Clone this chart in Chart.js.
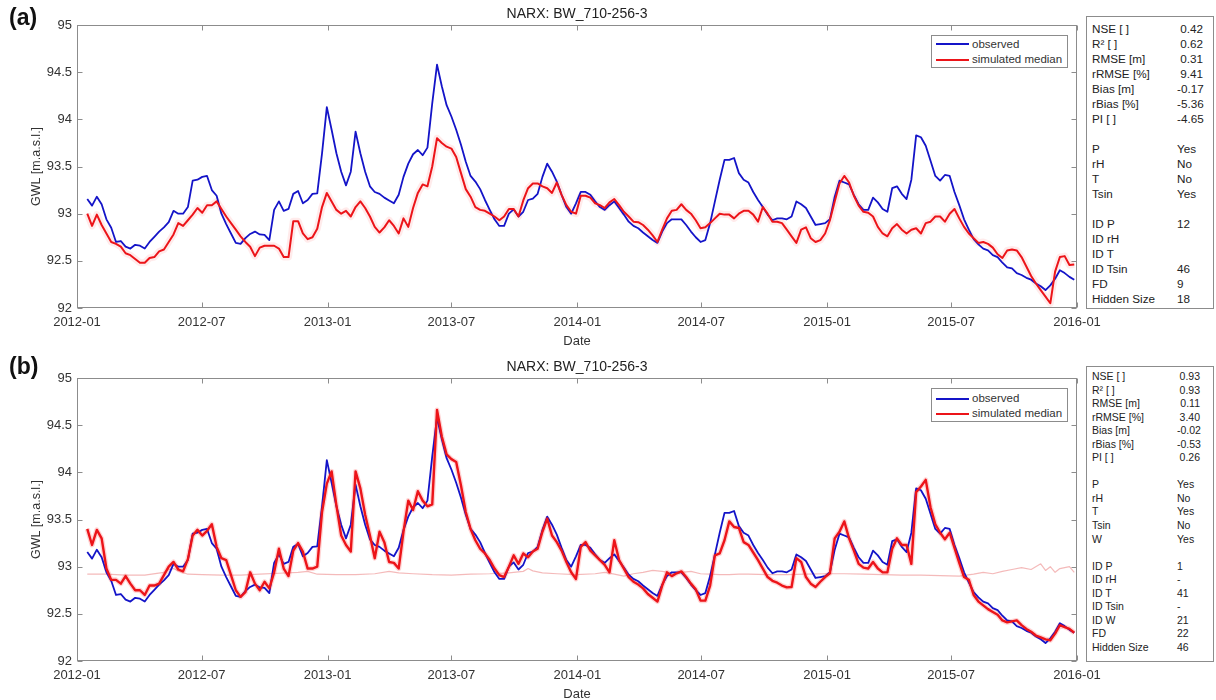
<!DOCTYPE html>
<html>
<head>
<meta charset="utf-8">
<title>NARX: BW_710-256-3</title>
<script src="https://cdn.jsdelivr.net/npm/chart.js@4.4.1/dist/chart.umd.min.js"></script>
<style>
  html, body { margin: 0; padding: 0; background: #fff; overflow: hidden; width: 1216px; height: 700px; }
  body { position: relative; font-family: "Liberation Sans", Arial, sans-serif; color: #222; }
  canvas { position: absolute; left: 0; }
  #chartA { top: 0; }
  #chartB { top: 353px; }
  .tag { position: absolute; left: 9px; font-weight: bold; font-size: 23px; line-height: 23px; color: #111; }
  .legend { position: absolute; left: 931px; width: 135px; border: 1px solid #8c8c8c; background: #fff; font-size: 11.5px; }
  .legend .entry { position: absolute; left: 0; width: 135px; height: 15px; line-height: 15px; }
  .legend .swatch { position: absolute; left: 4px; top: 6.5px; width: 33px; height: 2px; }
  .legend .text { position: absolute; left: 40px; top: 0; white-space: nowrap; color: #333; }
  .stats { position: absolute; left: 1086px; width: 128px; border: 1px solid #8c8c8c; background: #fff; box-sizing: border-box; color: #222; }
  .stats .row { position: relative; white-space: nowrap; }
  .stats .lab { position: absolute; left: 5px; top: 0; }
  .stats .val { position: absolute; left: 90px; top: 0; }
</style>
</head>
<body>
<canvas id="chartA" width="1216" height="353"></canvas>
<canvas id="chartB" width="1216" height="353"></canvas>
<div class="tag" style="top:6px">(a)</div>
<div class="tag" style="top:355px">(b)</div>
<div class="legend" id="legendA" style="top:35px;height:31px"></div>
<div class="legend" id="legendB" style="top:388px;height:32px"></div>
<div class="stats" id="statsA" style="top:16px;height:293px;padding-top:4px;font-size:11.7px"></div>
<div class="stats" id="statsB" style="top:366px;height:296px;padding-top:3px;font-size:10.5px"></div>
<script>
// ---- weekly groundwater levels, BW_710-256-3 (m a.s.l.) ----
const firstWeek = '2012-01-16';   // date of the first weekly value
const weekStep = 7;               // days between values

const observed = [
  93.155, 93.085, 93.18, 93.10, 92.94, 92.85, 92.70, 92.71, 92.65, 92.63,
  92.67, 92.66, 92.63, 92.70, 92.755, 92.81, 92.855, 92.91, 93.03, 93.00,
  93.00, 93.07, 93.35, 93.36, 93.39, 93.40, 93.25, 93.19, 93.00, 92.89,
  92.79, 92.69, 92.68, 92.74, 92.785, 92.81, 92.78, 92.775, 92.72, 93.04,
  93.13, 93.03, 93.05, 93.21, 93.24, 93.11, 93.145, 93.21, 93.215, 93.64,
  94.13, 93.89, 93.64, 93.445, 93.30, 93.445, 93.87, 93.64, 93.445, 93.29,
  93.23, 93.21, 93.17, 93.14, 93.11, 93.20, 93.39, 93.53, 93.63, 93.675,
  93.62, 93.70, 94.17, 94.58, 94.35, 94.15, 94.03, 93.89, 93.73, 93.55,
  93.40, 93.34, 93.26, 93.145, 93.04, 92.94, 92.87, 92.87, 93.00, 93.045,
  92.97, 93.02, 93.145, 93.16, 93.21, 93.39, 93.53, 93.445, 93.34, 93.20,
  93.07, 93.00, 93.11, 93.23, 93.23, 93.20, 93.13, 93.07, 93.04, 93.09,
  93.13, 93.06, 92.99, 92.915, 92.87, 92.845, 92.80, 92.76, 92.72, 92.69,
  92.81, 92.90, 92.94, 92.94, 92.94, 92.88, 92.81, 92.75, 92.70, 92.72,
  92.90, 93.13, 93.36, 93.57, 93.57, 93.59, 93.43, 93.36, 93.33, 93.23,
  93.145, 93.07, 92.99, 92.93, 92.95, 92.95, 92.94, 92.97, 93.13, 93.10,
  93.06, 92.97, 92.88, 92.89, 92.90, 92.94, 93.18, 93.35, 93.33, 93.31,
  93.20, 93.10, 93.04, 93.04, 93.17, 93.12, 93.05, 93.02, 93.27, 93.29,
  93.21, 93.155, 93.36, 93.83, 93.81, 93.72, 93.56, 93.40, 93.35, 93.41,
  93.40, 93.23, 93.09, 92.94, 92.83, 92.73, 92.675, 92.63, 92.61, 92.56,
  92.54, 92.48, 92.43, 92.42, 92.37, 92.35, 92.32, 92.30, 92.26, 92.23,
  92.19, 92.24, 92.31, 92.40, 92.37, 92.33, 92.30
];

// (a) simulated median, inputs P + Tsin
const simMedianA = [
  93.00, 92.87, 92.99, 92.88, 92.79, 92.70, 92.68, 92.65, 92.58, 92.56,
  92.52, 92.48, 92.48, 92.53, 92.54, 92.60, 92.62, 92.70, 92.78, 92.90,
  92.87, 92.93, 92.99, 93.06, 93.01, 93.09, 93.09, 93.13, 93.05, 92.97,
  92.90, 92.83, 92.76, 92.70, 92.65, 92.55, 92.64, 92.66, 92.66, 92.66,
  92.63, 92.54, 92.54, 92.92, 92.92, 92.79, 92.73, 92.75, 92.84, 93.07,
  93.22, 93.13, 93.04, 93.00, 93.03, 92.97, 93.07, 93.13, 93.06, 92.97,
  92.86, 92.80, 92.855, 92.93, 92.87, 92.79, 92.95, 92.86, 93.06, 93.22,
  93.31, 93.29, 93.50, 93.80, 93.75, 93.71, 93.69, 93.60, 93.43, 93.26,
  93.18, 93.07, 93.04, 93.03, 93.00, 92.97, 92.93, 92.97, 93.05, 93.05,
  92.97, 93.14, 93.27, 93.32, 93.32, 93.29, 93.27, 93.22, 93.33, 93.20,
  93.09, 93.02, 93.00, 93.19, 93.19, 93.17, 93.11, 93.09, 93.06, 93.12,
  93.155, 93.09, 93.02, 92.97, 92.915, 92.91, 92.88, 92.83, 92.77, 92.70,
  92.83, 92.95, 93.03, 93.04, 93.10, 93.04, 93.00, 92.93, 92.845, 92.855,
  92.90, 92.95, 93.00, 92.99, 92.99, 92.95, 93.00, 93.03, 93.03, 92.99,
  92.915, 93.07, 93.00, 92.915, 92.915, 92.90, 92.83, 92.76, 92.69, 92.83,
  92.855, 92.74, 92.70, 92.72, 92.79, 92.93, 93.13, 93.32, 93.40, 93.33,
  93.19, 93.085, 93.02, 93.01, 92.97, 92.86, 92.79, 92.76, 92.845, 92.89,
  92.83, 92.79, 92.83, 92.845, 92.79, 92.90, 92.915, 92.97, 92.97, 92.915,
  93.00, 93.05, 92.95, 92.86, 92.79, 92.74, 92.69, 92.70, 92.68, 92.64,
  92.57, 92.53, 92.61, 92.62, 92.61, 92.54, 92.44, 92.34, 92.26, 92.19,
  92.12, 92.05, 92.385, 92.54, 92.55, 92.455, 92.46
];

// (b) simulated median, inputs P + T + W
const simMedianB = [
  93.40, 93.23, 93.39, 93.30, 92.98, 92.86, 92.86, 92.82, 92.90, 92.82,
  92.75, 92.75, 92.70, 92.80, 92.80, 92.82, 92.91, 93.00, 93.05, 92.97,
  92.95, 93.08, 93.33, 93.39, 93.33, 93.38, 93.45, 93.21, 93.09, 93.07,
  92.91, 92.75, 92.68, 92.73, 92.94, 92.82, 92.75, 92.84, 92.77, 92.94,
  93.19, 92.98, 92.90, 93.17, 93.25, 93.16, 92.98, 92.98, 93.00, 93.58,
  93.88, 94.01, 93.65, 93.33, 93.23, 93.16, 94.01, 93.83, 93.55, 93.33,
  93.09, 93.37, 93.26, 93.05, 93.04, 92.98, 93.37, 93.70, 93.60, 93.80,
  93.70, 93.64, 93.66, 94.66, 94.38, 94.19, 94.14, 94.11, 93.86, 93.58,
  93.40, 93.28, 93.19, 93.14, 93.07, 92.98, 92.91, 92.89, 93.00, 93.12,
  93.03, 93.14, 93.10, 93.16, 93.19, 93.37, 93.51, 93.33, 93.26, 93.17,
  93.05, 92.94, 92.87, 93.21, 93.26, 93.17, 93.12, 93.07, 93.02, 92.94,
  93.28, 93.07, 92.98, 92.89, 92.84, 92.81, 92.77, 92.71, 92.67, 92.63,
  92.80, 92.94, 92.90, 92.93, 92.95, 92.89, 92.82, 92.76, 92.64, 92.64,
  92.80, 93.12, 93.14, 93.28, 93.48, 93.42, 93.41, 93.26, 93.23, 93.15,
  93.07, 92.98, 92.89, 92.85, 92.83, 92.80, 92.78, 92.785, 93.09, 93.05,
  92.89, 92.82, 92.785, 92.84, 92.89, 92.93, 93.30, 93.37, 93.48, 93.30,
  93.17, 93.03, 92.99, 92.98, 93.05, 92.98, 92.94, 92.94, 93.19, 93.30,
  93.23, 93.23, 93.03, 93.79, 93.85, 93.92, 93.63, 93.45, 93.36, 93.29,
  93.36, 93.20, 93.04, 92.89, 92.86, 92.70, 92.63, 92.59, 92.55, 92.52,
  92.49, 92.43, 92.41, 92.42, 92.43, 92.38, 92.34, 92.31, 92.27, 92.25,
  92.23, 92.22, 92.29, 92.38, 92.36, 92.34, 92.30
];

// (b) one ensemble member that stays near its initial level
const driftWeeks = [
  0, 4, 8, 12, 16, 17, 18, 19, 21, 24, 28, 32, 36, 40, 44, 46, 48, 52, 56, 60,
  63, 65, 68, 72, 76, 80, 84, 88, 91, 92, 93, 95, 98, 102, 106, 108, 110, 112, 114, 116,
  118, 120, 122, 124, 126, 128, 130, 132, 134, 136, 138, 142, 146, 150, 154, 158, 162, 166, 170, 174,
  178, 182, 185, 187, 189, 191, 193, 195, 197, 199, 200, 201, 202, 203, 205, 206
];
const driftValues = [
  92.92, 92.92, 92.91, 92.91, 92.94, 92.97, 92.98, 92.955, 92.92, 92.915, 92.91, 92.91, 92.92, 92.93, 92.94, 92.95, 92.92, 92.915, 92.915, 92.925,
  92.95, 92.935, 92.925, 92.915, 92.91, 92.92, 92.925, 92.935, 92.95, 92.98, 92.955, 92.935, 92.925, 92.915, 92.925, 92.94, 92.92, 92.90, 92.925, 92.94,
  92.96, 92.95, 92.935, 92.94, 92.95, 92.925, 92.92, 92.915, 92.915, 92.92, 92.92, 92.915, 92.915, 92.92, 92.925, 92.925, 92.92, 92.915, 92.91, 92.91,
  92.905, 92.90, 92.92, 92.94, 92.925, 92.95, 92.97, 92.99, 92.97, 93.03, 92.96, 93.00, 92.94, 92.98, 93.00, 92.94
];

const xTickLabels = ['2012-01', '2012-07', '2013-01', '2013-07', '2014-01', '2014-07', '2015-01', '2015-07', '2016-01'];
const yMin = 92, yMax = 95, yStep = 0.5;

const seriesNames = ['observed', 'simulated median'];
const plotTitle = 'NARX: BW_710-256-3';

const statsA = [
  ['NSE [ ]', '0.42'], ['R\u00b2 [ ]', '0.62'], ['RMSE [m]', '0.31'], ['rRMSE [%]', '9.41'],
  ['Bias [m]', '-0.17'], ['rBias [%]', '-5.36'], ['PI [ ]', '-4.65'], null,
  ['P', 'Yes'], ['rH', 'No'], ['T', 'No'], ['Tsin', 'Yes'], null,
  ['ID P', '12'], ['ID rH', ''], ['ID T', ''], ['ID Tsin', '46'], ['FD', '9'], ['Hidden Size', '18']
];
const statsB = [
  ['NSE [ ]', '0.93'], ['R\u00b2 [ ]', '0.93'], ['RMSE [m]', '0.11'], ['rRMSE [%]', '3.40'],
  ['Bias [m]', '-0.02'], ['rBias [%]', '-0.53'], ['PI [ ]', '0.26'], null,
  ['P', 'Yes'], ['rH', 'No'], ['T', 'Yes'], ['Tsin', 'No'], ['W', 'Yes'], null,
  ['ID P', '1'], ['ID rH', '-'], ['ID T', '41'], ['ID Tsin', '-'], ['ID W', '21'], ['FD', '22'], ['Hidden Size', '46']
];

// ---- helpers ----
const ORIGIN = Date.UTC(2012, 0, 1);
function dayOf(iso) {
  const [y, m, d] = iso.split('-').map(Number);
  return (Date.UTC(y, m - 1, d || 1) - ORIGIN) / 86400000;
}
const day0 = dayOf(firstWeek);
const weekX = k => day0 + weekStep * k;
const toPoints = vals => vals.map((v, k) => ({ x: weekX(k), y: v }));
const xTickDays = xTickLabels.map(dayOf);

const BLUE = '#1414c8';
const RED = '#ec1419';
const FRAME = '#8c8c8c';

Chart.defaults.font.family = '"Liberation Sans", Arial, sans-serif';
Chart.defaults.color = '#262626';

// axes box with inward tick marks on all four sides
const framePlugin = {
  id: 'frame',
  beforeDatasetsDraw(chart) {
    const { ctx, chartArea: a, scales: { x, y } } = chart;
    const L = 5;
    ctx.save();
    ctx.strokeStyle = FRAME;
    ctx.lineWidth = 1;
    const l = Math.round(a.left) + 0.5, r = Math.round(a.right) - 0.5;
    const t = Math.round(a.top) + 0.5, b = Math.round(a.bottom) - 0.5;
    ctx.strokeRect(l, t, r - l, b - t);
    ctx.beginPath();
    x.ticks.forEach(tk => {
      const px = Math.round(x.getPixelForValue(tk.value)) + 0.5;
      ctx.moveTo(px, b); ctx.lineTo(px, b - L);
      ctx.moveTo(px, t); ctx.lineTo(px, t + L);
    });
    y.ticks.forEach(tk => {
      const py = Math.round(y.getPixelForValue(tk.value)) + 0.5;
      ctx.moveTo(l, py); ctx.lineTo(l + L, py);
      ctx.moveTo(r, py); ctx.lineTo(r - L, py);
    });
    ctx.stroke();
    ctx.restore();
  }
};

function makeChart(canvasId, median, bandWidth, bandColor, medianWidth, extra) {
  const datasets = [
    { label: seriesNames[1], data: toPoints(median), borderColor: RED, borderWidth: medianWidth },
    { label: seriesNames[0], data: toPoints(observed), borderColor: BLUE, borderWidth: 1.8 },
    { label: 'ensemble spread', data: toPoints(median), borderColor: bandColor, borderWidth: bandWidth, borderJoinStyle: 'round' }
  ].concat(extra || []);
  return new Chart(document.getElementById(canvasId), {
    type: 'line',
    data: { datasets },
    plugins: [framePlugin],
    options: {
      responsive: false,
      animation: false,
      devicePixelRatio: 1,
      events: [],
      layout: { padding: { left: 0, right: 139, top: 0, bottom: 0 } },
      elements: { point: { radius: 0 }, line: { tension: 0, fill: false, borderJoinStyle: 'round' } },
      plugins: {
        legend: { display: false },
        tooltip: { enabled: false },
        title: {
          display: true, text: plotTitle, fullSize: false, color: '#222',
          font: { size: 14, weight: 'normal' }, padding: { top: 6, bottom: 2.2 }
        }
      },
      scales: {
        x: {
          type: 'linear', min: xTickDays[0], max: xTickDays[xTickDays.length - 1],
          grid: { display: false, drawTicks: false }, border: { display: false },
          afterBuildTicks: s => { s.ticks = xTickDays.map(v => ({ value: v })); },
          ticks: {
            autoSkip: false, maxRotation: 0, padding: 7, color: '#333', font: { size: 13 },
            callback: v => xTickLabels[xTickDays.indexOf(v)]
          },
          title: { display: true, text: 'Date', color: '#333', font: { size: 13 }, padding: { top: 0, bottom: 4.2 } },
          afterFit: s => { s.height = 45; }
        },
        y: {
          min: yMin, max: yMax,
          grid: { display: false, drawTicks: false }, border: { display: false },
          ticks: { stepSize: yStep, padding: 5, color: '#333', font: { size: 13 }, callback: v => String(+v.toFixed(1)) },
          title: { display: true, text: 'GWL [m.a.s.l.]', color: '#333', font: { size: 12.5 }, padding: { top: 29, bottom: 0 } },
          afterFit: s => { s.width = 77; }
        }
      }
    }
  });
}

const chartA = makeChart('chartA', simMedianA, 7, 'rgba(255,100,100,0.13)', 2);
const chartB = makeChart('chartB', simMedianB, 5, 'rgba(255,60,60,0.22)', 2.4, [
  { label: 'ensemble member', data: driftWeeks.map((k, i) => ({ x: weekX(k), y: driftValues[i] })),
    borderColor: 'rgba(236,140,140,0.6)', borderWidth: 1.2 }
]);

// ---- legends built from the dataset labels ----
function buildLegend(el, chart, centers) {
  const ds = chart.data.datasets;
  [ds[1], ds[0]].forEach((d, i) => {
    const e = document.createElement('div');
    e.className = 'entry';
    e.style.top = (centers[i] - 7.5) + 'px';
    const sw = document.createElement('span');
    sw.className = 'swatch';
    sw.style.background = d.borderColor;
    const tx = document.createElement('span');
    tx.className = 'text';
    tx.textContent = d.label;
    e.appendChild(sw); e.appendChild(tx);
    el.appendChild(e);
  });
}
buildLegend(document.getElementById('legendA'), chartA, [8, 23.5]);
buildLegend(document.getElementById('legendB'), chartB, [9.5, 24.5]);

// ---- model statistics / configuration boxes ----
function buildStats(el, rows, rowH, numW) {
  rows.forEach(r => {
    const row = document.createElement('div');
    row.className = 'row';
    row.style.height = rowH + 'px';
    row.style.lineHeight = rowH + 'px';
    if (r) {
      const lab = document.createElement('span');
      lab.className = 'lab';
      lab.textContent = r[0];
      const val = document.createElement('span');
      val.className = 'val';
      val.textContent = r[1];
      if (r[1].indexOf('.') >= 0) { val.style.width = numW + 'px'; val.style.textAlign = 'right'; }
      row.appendChild(lab); row.appendChild(val);
    }
    el.appendChild(row);
  });
}
buildStats(document.getElementById('statsA'), statsA, 15, 26);
buildStats(document.getElementById('statsB'), statsB, 13.55, 23);
</script>
</body>
</html>
